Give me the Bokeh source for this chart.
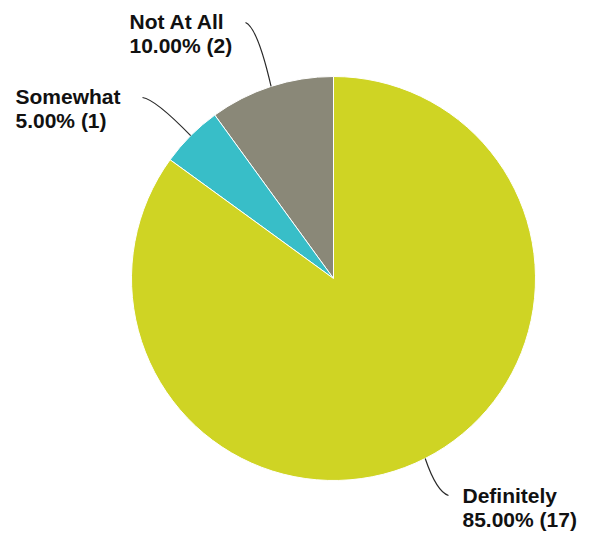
import math
from bokeh.plotting import figure
from bokeh.models import Range1d, ColumnDataSource
from bokeh.core.properties import value
from bokeh.embed import file_html
from bokeh.resources import INLINE

# ---- data ----
categories = ["Not At All", "Somewhat", "Definitely"]
counts = [2, 1, 17]
colors = ["#8a8878", "#38bec8", "#cfd424"]

W, H = 578, 532
p = figure(width=W, height=H, output_backend="svg", toolbar_location=None,
           x_range=Range1d(0, W), y_range=Range1d(0, H), min_border=0)
p.axis.visible = False
p.grid.visible = False
p.outline_line_color = None
p.background_fill_color = "white"
p.border_fill_color = "white"

def pg(px, py):
    # picture pixel -> data coords
    return px, H - py

TB = 7  # baseline correction for text rendering

cx, cy = pg(333, 278)
R = 202

total = sum(counts)
starts, ends, mids = [], [], []
a = math.pi / 2
for c in counts:
    span = 2 * math.pi * c / total
    starts.append(a)
    ends.append(a + span)
    mids.append(a + span / 2)
    a += span

src = ColumnDataSource(dict(start=starts, end=ends, color=colors))
p.wedge(x=cx, y=cy, radius=R, radius_units="screen", start_angle="start", end_angle="end",
        direction="anticlock", fill_color="color", line_color="white", line_width=1, source=src)

# label layout (picture coordinates): text left, baselines, leader start, control point
layout = {
    "Not At All": dict(tx=129, b1=28, b2=52, lx=245, ly=22, qx=257, qy=27),
    "Somewhat": dict(tx=15, b1=103, b2=127, lx=142, ly=97, qx=155, qy=99),
    "Definitely": dict(tx=462, b1=502, b2=526, lx=448, ly=495, qx=436, qy=491),
}

fonts = dict(text_font=value("Liberation Sans"), text_font_style="bold",
             text_font_size="21px", text_color="#111111", text_align="left",
             text_baseline="alphabetic")

for cat, cnt, mid in zip(categories, counts, mids):
    L = layout[cat]
    pct = 100.0 * cnt / total
    x1, y1 = pg(L["tx"], L["b1"] - TB)
    _, y2 = pg(L["tx"], L["b2"] - TB)
    p.text(x=[x1], y=[y1], text=[cat], **fonts)
    p.text(x=[x1], y=[y2], text=[f"{pct:.2f}% ({cnt})"], **fonts)
    ex = cx + R * math.cos(mid)
    ey = cy + R * math.sin(mid)
    sx, sy = pg(L["lx"], L["ly"])
    qx, qy = pg(L["qx"], L["qy"])
    p.quadratic(x0=[sx], y0=[sy], x1=[ex], y1=[ey], cx=[qx], cy=[qy],
                line_color="#2a2a2a", line_width=1.2)

open("out.html", "w").write(file_html(p, INLINE))
